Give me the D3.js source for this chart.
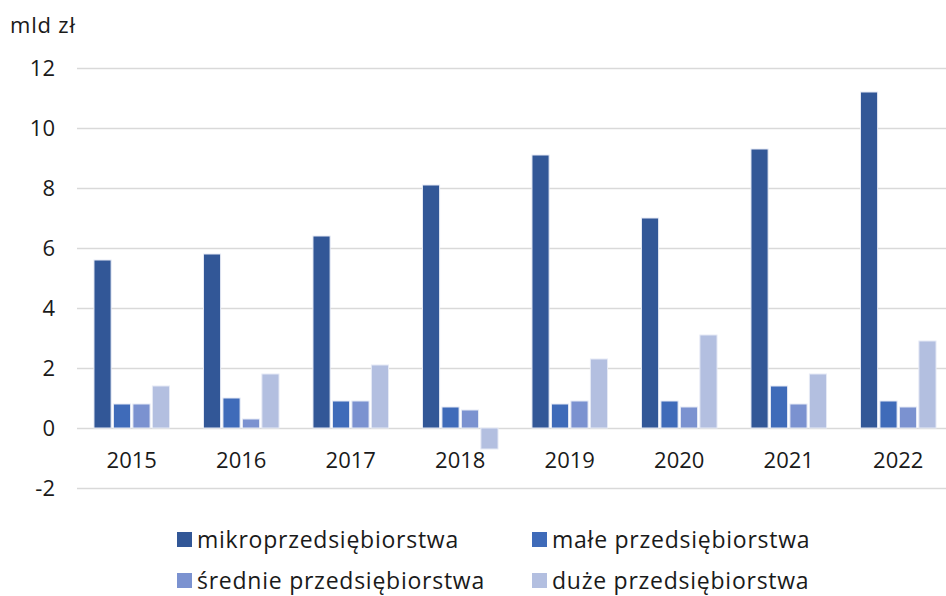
<!DOCTYPE html>
<html>
<head>
<meta charset="utf-8">
<script src="https://cdn.jsdelivr.net/npm/d3@7"></script>
<style>
  body { margin: 0; background: #fff; }
  text { font-family: "Open Sans", "Noto Sans", sans-serif; fill: #1a1a1a; }
</style>
</head>
<body>
<svg id="chart" width="946" height="596"></svg>
<script>
// data ----------------------------------------
var years = ["2015", "2016", "2017", "2018", "2019", "2020", "2021", "2022"];
var seriesNames = ["mikroprzedsiębiorstwa", "małe przedsiębiorstwa", "średnie przedsiębiorstwa", "duże przedsiębiorstwa"];
var mikro = [5.6, 5.8, 6.4, 8.1, 9.1, 7.0, 9.3, 11.2];
var male = [0.8, 1.0, 0.9, 0.7, 0.8, 0.9, 1.4, 0.9];
var srednie = [0.8, 0.3, 0.9, 0.6, 0.9, 0.7, 0.8, 0.7];
var duze = [1.4, 1.8, 2.1, -0.7, 2.3, 3.1, 1.8, 2.9];
var yTicks = [-2, 0, 2, 4, 6, 8, 10, 12];
var unitLabel = "mld zł";

var colors = ["#325797", "#3f6bb9", "#7b92d0", "#b3bfe0"];
var seriesValues = [mikro, male, srednie, duze];

var svg = d3.select("#chart");

// Scales ----------------------------------------
var x0 = d3.scaleBand()
  .domain(years)
  .range([77, 953])
  .paddingInner(0.31)
  .paddingOuter(0.155);

var x1 = d3.scaleBand()
  .domain(d3.range(seriesNames.length))
  .range([0, x0.bandwidth()])
  .paddingInner(0.12);

var y = d3.scaleLinear()
  .domain([-2, 12])
  .range([488, 68]);

// Gridlines + y labels ----------------------------------------
var yAxis = svg.append("g")
  .attr("transform", "translate(77,0)")
  .call(d3.axisLeft(y)
    .tickValues(yTicks)
    .tickSize(-869)
    .tickPadding(22)
    .tickFormat(function(d) { return String(d); })); // plain hyphen, like the original

yAxis.select(".domain").remove();
yAxis.selectAll(".tick line")
  .attr("stroke", "#d9d9d9")
  .attr("stroke-width", 1.3);
yAxis.selectAll(".tick text")
  .style("font-size", "22px")
  .attr("fill", "#1a1a1a");

// unit label
svg.append("text")
  .attr("x", 10)
  .attr("y", 33)
  .style("font-size", "22px")
  .style("letter-spacing", "0.8px")
  .text(unitLabel);

// Bars ----------------------------------------
var rows = years.map(function(yr, i) {
  return { year: yr, values: seriesValues.map(function(s) { return s[i]; }) };
});

var groups = svg.append("g")
  .selectAll("g")
  .data(rows)
  .enter().append("g")
  .attr("transform", function(d) { return "translate(" + x0(d.year) + ",0)"; });

groups.selectAll("rect")
  .data(function(d) { return d.values; })
  .enter().append("rect")
  .attr("x", function(d, i) { return x1(i); })
  .attr("width", x1.bandwidth())
  .attr("y", function(d) { return y(Math.max(0, d)); })
  .attr("height", function(d) { return Math.abs(y(d) - y(0)); })
  .attr("fill", function(d, i) { return colors[i]; })
  .attr("stroke", "#e6eaf5")
  .attr("stroke-width", 1);

// Year labels ----------------------------------------
svg.append("g")
  .selectAll("text")
  .data(years)
  .enter().append("text")
  .attr("x", function(d) { return x0(d) + x0.bandwidth() / 2; })
  .attr("y", 468)
  .attr("text-anchor", "middle")
  .style("font-size", "22px")
  .text(function(d) { return d; });

// Legend ----------------------------------------
var legendPos = [[177, 548], [532, 548], [177, 589], [532, 589]];

var legend = svg.append("g")
  .selectAll("g")
  .data(seriesNames)
  .enter().append("g")
  .attr("transform", function(d, i) { return "translate(" + legendPos[i][0] + "," + legendPos[i][1] + ")"; });

legend.append("rect")
  .attr("x", 0)
  .attr("y", -16)
  .attr("width", 15)
  .attr("height", 15)
  .attr("fill", function(d, i) { return colors[i]; });

legend.append("text")
  .attr("x", 20)
  .attr("y", 0)
  .style("font-size", "23px")
  .style("letter-spacing", "0.75px")
  .text(function(d) { return d; });
</script>
</body>
</html>
